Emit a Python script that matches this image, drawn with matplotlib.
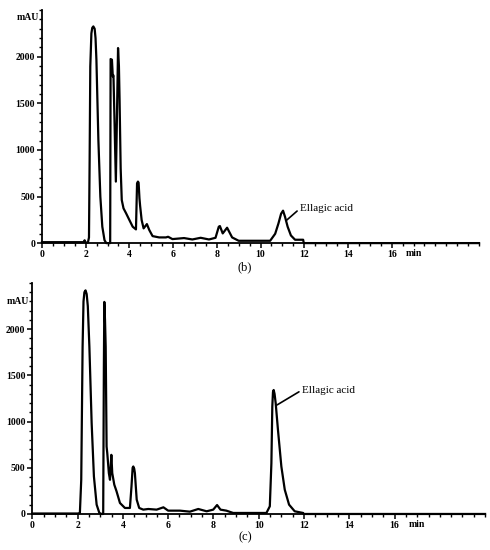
import matplotlib.pyplot as plt
from matplotlib.ticker import FixedLocator, MultipleLocator

# chromatogram (b): retention time (min) and absorbance (mAU)
time_b = [0.0, 1.9, 1.95, 2.0, 2.1, 2.15, 2.18, 2.21, 2.26, 2.3, 2.35, 2.41, 2.45,
          2.49, 2.58, 2.67, 2.76, 2.86, 2.94, 3.12, 3.14, 3.2, 3.24, 3.27, 3.3,
          3.38, 3.44, 3.48, 3.52, 3.55, 3.6, 3.65, 3.73, 3.85, 4.0, 4.15, 4.3,
          4.35, 4.39, 4.42, 4.46, 4.49, 4.56, 4.65, 4.8, 4.91, 5.06, 5.36, 5.67,
          5.77, 5.97, 6.5, 6.88, 7.26, 7.64, 7.94, 8.09, 8.14, 8.27, 8.47, 8.7,
          9.0, 9.45, 10.44, 10.67, 10.82, 10.94, 11.03, 11.12, 11.24, 11.39,
          11.58, 11.95, 11.98, 20.0]
mau_b = [10, 10, 30, 5, 5, 60, 900, 1896, 2250, 2310, 2325, 2300, 2200,
         1968, 1107, 498, 176, 32, 0, 0, 1975, 1968, 1789, 1800, 1500,
         660, 1500, 2093, 1900, 1538, 800, 462, 373, 319, 247, 176, 147,
         642, 660, 649, 480, 400, 247, 158, 204, 140, 75, 61, 61,
         68, 43, 54, 39, 57, 39, 57, 176, 183, 104, 165, 61,
         25, 25, 25, 100, 211, 315, 348, 283, 176, 82,
         36, 36, 0, 0]

# chromatogram (c)
time_c = [0.0, 2.05, 2.1, 2.16, 2.22, 2.26, 2.3, 2.35, 2.4, 2.45, 2.52, 2.62,
          2.72, 2.84, 2.96, 3.06, 3.13, 3.16, 3.18, 3.21, 3.24, 3.28, 3.31, 3.38,
          3.43, 3.49, 3.53, 3.62, 3.72, 3.87, 4.09, 4.31, 4.38, 4.43, 4.46, 4.5,
          4.53, 4.61, 4.72, 4.9, 5.12, 5.49, 5.79, 6.0, 6.52, 6.96, 7.33, 7.7,
          7.99, 8.16, 8.31, 8.57, 8.87, 9.6, 10.34, 10.49, 10.56, 10.6, 10.63,
          10.66, 10.7, 10.75, 10.85, 11.0, 11.15, 11.34, 11.59, 11.96, 11.98, 20.0]
mau_c = [5, 5, 10, 370, 1809, 2300, 2400, 2420, 2380, 2250, 1809, 982,
         406, 101, 11, 0, 0, 1600, 2295, 2100, 1809, 730, 658, 442,
         370, 640, 442, 317, 245, 119, 65, 65, 299, 500, 514, 490,
         442, 155, 65, 47, 54, 47, 72, 36, 36, 25, 54, 29,
         47, 97, 47, 36, 11, 11, 11, 83, 550, 1162, 1320,
         1342, 1300, 1198, 910, 514, 263, 101, 29, 11, 0, 0]

# peak annotation: (line end at peak, label position)
label_b = ((11.2, 247), (11.8, 370))
label_c = ((10.81, 1180), (11.9, 1340))

plt.rcParams['font.family'] = ['Liberation Serif', 'DejaVu Serif']

fig = plt.figure(figsize=(4.9, 5.5), dpi=100, facecolor='white')
ax_b = fig.add_axes([0.0857, 0.558, 0.892, 0.4236])
ax_c = fig.add_axes([0.066, 0.0655, 0.924, 0.42])


def style_axis(ax):
    ax.set_xlim(0, 20)
    ax.set_ylim(0, 2500)
    for side in ['top', 'right']:
        ax.spines[side].set_visible(False)
    for side in ['left', 'bottom']:
        ax.spines[side].set_linewidth(1.3)
    ax.xaxis.set_major_locator(FixedLocator(list(range(0, 17, 2))))
    ax.xaxis.set_minor_locator(MultipleLocator(0.5))
    ax.yaxis.set_major_locator(FixedLocator([0, 500, 1000, 1500, 2000]))
    ax.yaxis.set_minor_locator(MultipleLocator(100))
    ax.tick_params(which='major', length=3.5, width=1.1, pad=1.5, labelsize=7,
                   direction='out')
    ax.tick_params(which='minor', length=2, width=1.0, direction='out')
    for lbl in ax.get_xticklabels() + ax.get_yticklabels():
        lbl.set_fontweight('bold')
    ax.text(17.0, -60, 'min', fontsize=7, fontweight='bold', ha='center', va='top')


style_axis(ax_b)
style_axis(ax_c)

ax_b.plot(time_b, mau_b, color='black', linewidth=1.6, solid_joinstyle='round', clip_on=False)
ax_c.plot(time_c, mau_c, color='black', linewidth=1.6, solid_joinstyle='round', clip_on=False)

ax_b.text(-0.15, 2420, 'mAU', fontsize=7, fontweight='bold', ha='right', va='center')
ax_c.text(-0.15, 2300, 'mAU', fontsize=7, fontweight='bold', ha='right', va='center')

for ax, (tip, txt) in [(ax_b, label_b), (ax_c, label_c)]:
    ax.annotate('Ellagic acid', xy=tip, xytext=txt, fontsize=8, ha='left', va='center',
                arrowprops=dict(arrowstyle='-', color='black', linewidth=1.2,
                                shrinkA=0, shrinkB=0,
                                relpos=(0.0, 0.5)))

fig.text(245 / 490, 1 - 267 / 550, '(b)', fontsize=9, ha='center', va='center')
fig.text(245 / 490, 1 - 537 / 550, '(c)', fontsize=9, ha='center', va='center')

fig.savefig('out.png', dpi=100, facecolor='white')
